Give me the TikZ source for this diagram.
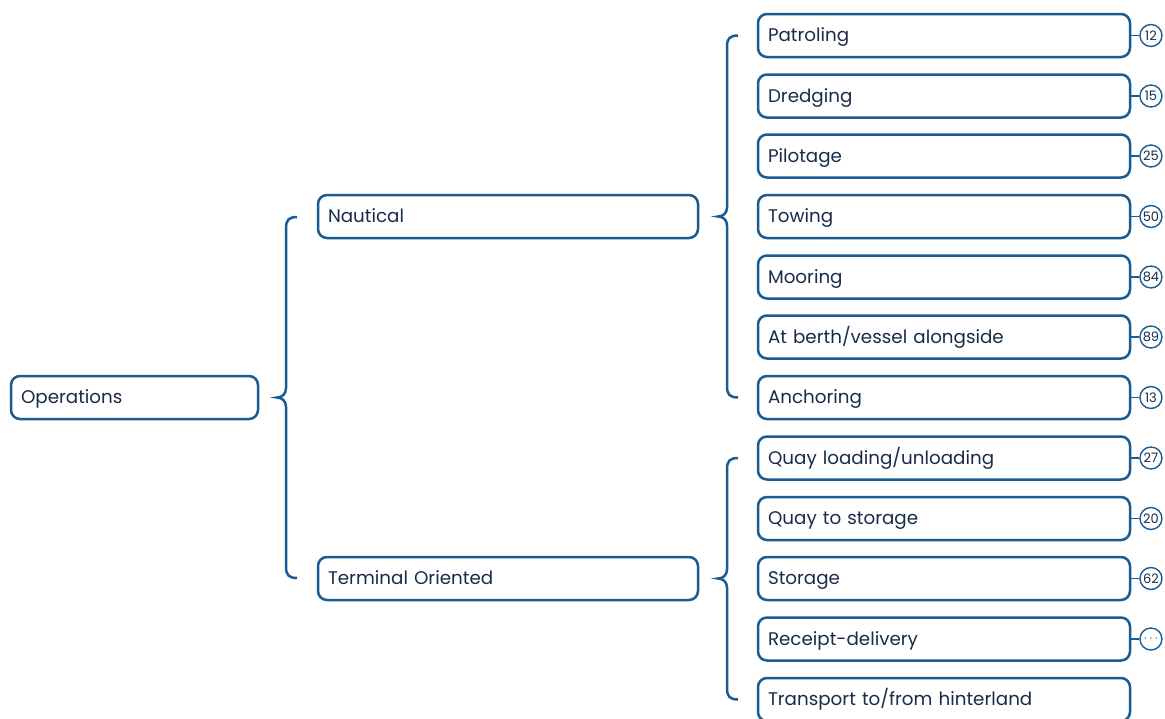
\documentclass[tikz,border=0pt]{standalone}
\usepackage{fontspec}
\setmainfont{Poppins}
\usetikzlibrary{positioning}
\definecolor{boxblue}{RGB}{26,92,145}
\definecolor{textnavy}{RGB}{24,44,72}

\begin{document}
\begin{tikzpicture}
	% Styles
	[
	x=1pt,y=-1pt,
	item/.style={draw=boxblue,line width=2.5pt,rounded corners=9pt,fill=white,minimum height=43pt,inner xsep=10pt,text height=16pt,text depth=4pt,align=left,text=textnavy,font=\fontsize{18.3}{21}\selectfont},
	root/.style={item,text width=227pt},
	branch/.style={item,text width=360pt},
	leaf/.style={item,text width=352pt},
	count/.style={circle,draw=boxblue,line width=1.4pt,minimum size=22pt,inner sep=0pt,text=textnavy,font=\fontsize{13}{14}\selectfont},
	brace/.style={draw=boxblue,line width=2.5pt},
	link/.style={draw=boxblue,line width=1.6pt},
	]

	\useasboundingbox (0,0) rectangle (1165,718);

	% Nodes
	\node at (134.5,397.5)	(ops)	[root]	{Operations};
	\node at (508,216.5)	(naut)	[branch]	{Nautical};
	\node at (508,578.5)	(term)	[branch]	{Terminal Oriented};

	\node at (944,35.5)	(patrol)	[leaf]	{Patroling};
	\node at (944,96)	(dredge)	[leaf]	{Dredging};
	\node at (944,156)	(pilot)	[leaf]	{Pilotage};
	\node at (944,216.5)	(tow)	[leaf]	{Towing};
	\node at (944,277)	(moor)	[leaf]	{Mooring};
	\node at (944,337)	(berth)	[leaf]	{At berth/vessel alongside};
	\node at (944,397.5)	(anchor)	[leaf]	{Anchoring};
	\node at (944,458)	(quay)	[leaf]	{Quay loading/unloading};
	\node at (944,518.5)	(qstore)	[leaf]	{Quay to storage};
	\node at (944,578.5)	(store)	[leaf]	{Storage};
	\node at (944,639)	(receipt)	[leaf]	{Receipt-delivery};
	\node at (944,699.5)	(transport)	[leaf]	{Transport to/from hinterland};

	% Counts
	\node[count,right=8pt of patrol]	(c1)	{12};
	\node[count,right=8pt of dredge]	(c2)	{15};
	\node[count,right=8pt of pilot]	(c3)	{25};
	\node[count,right=8pt of tow]	(c4)	{50};
	\node[count,right=8pt of moor]	(c5)	{84};
	\node[count,right=8pt of berth]	(c6)	{89};
	\node[count,right=8pt of anchor]	(c7)	{13};
	\node[count,right=8pt of quay]	(c8)	{27};
	\node[count,right=8pt of qstore]	(c9)	{20};
	\node[count,right=8pt of store]	(c10)	{62};
	\node[count,right=8pt of receipt]	(c11)	{$\cdots$};

	% Links
	\draw[link] (patrol) -- (c1);
	\draw[link] (dredge) -- (c2);
	\draw[link] (pilot) -- (c3);
	\draw[link] (tow) -- (c4);
	\draw[link] (moor) -- (c5);
	\draw[link] (berth) -- (c6);
	\draw[link] (anchor) -- (c7);
	\draw[link] (quay) -- (c8);
	\draw[link] (qstore) -- (c9);
	\draw[link] (store) -- (c10);
	\draw[link] (receipt) -- (c11);

	% Braces
	\draw[brace] (297,217) .. controls (289,217) and (286,220) .. (286,228) -- (286,388)
		.. controls (286,394) and (282,397.5) .. (277,397.5)
		.. controls (282,397.5) and (286,401) .. (286,407) -- (286,567)
		.. controls (286,575) and (289,578) .. (297,578);
	\draw[brace] (738,35.5) .. controls (730,35.5) and (727,38.5) .. (727,46.5) -- (727,207.5)
		.. controls (727,213) and (723,216.5) .. (718,216.5)
		.. controls (723,216.5) and (727,220) .. (727,225.5) -- (727,386.5)
		.. controls (727,394.5) and (730,397.5) .. (738,397.5);
	\draw[brace] (738,458) .. controls (730,458) and (727,461) .. (727,469) -- (727,569.5)
		.. controls (727,575) and (723,578.5) .. (718,578.5)
		.. controls (723,578.5) and (727,582) .. (727,587.5) -- (727,688.5)
		.. controls (727,696.5) and (730,699.5) .. (738,699.5);
\end{tikzpicture}
\end{document}
